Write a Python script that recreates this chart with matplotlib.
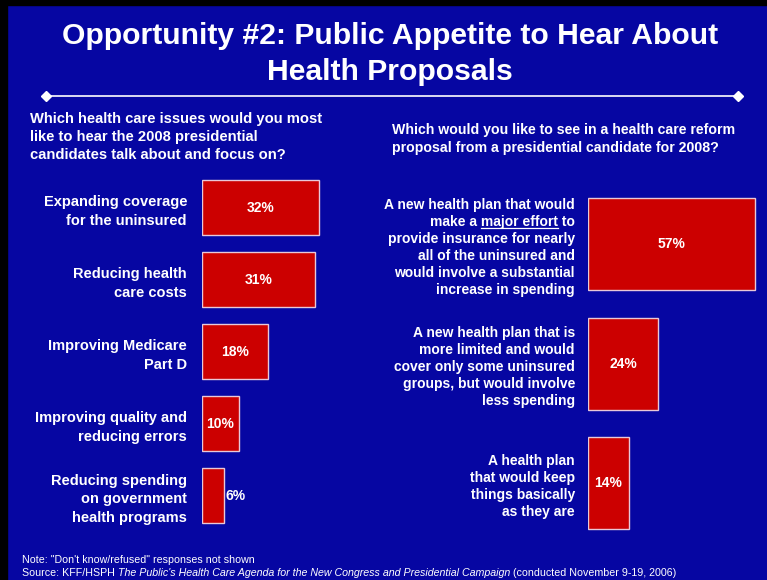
import matplotlib.pyplot as plt
from matplotlib.patches import Rectangle

plt.rcParams['font.family'] = ['Liberation Sans', 'DejaVu Sans']

# left panel: issues to hear about
issues = ["Expanding coverage\nfor the uninsured",
          "Reducing health\ncare costs",
          "Improving Medicare\nPart D",
          "Improving quality and\nreducing errors",
          "Reducing spending\non government\nhealth programs"]
issue_pct = [32, 31, 18, 10, 6]

# right panel: reform proposal preference
plans = ["A new health plan that would\nmake a major effort to\nprovide insurance for nearly\nall of the uninsured and\nwould involve a substantial\nincrease in spending",
         "A new health plan that is\nmore limited and would\ncover only some uninsured\ngroups, but would involve\nless spending",
         "A health plan\nthat would keep\nthings basically\nas they are"]
plan_pct = [57, 24, 14]

BG = '#0606A2'
RED = '#CC0000'
EDGE = '#E8C8D8'

W, H = 767, 580
fig = plt.figure(figsize=(W / 100, H / 100), dpi=100, facecolor=BG)

def px_axes(x0, y0, x1, y1):
    # axes from pixel box (top-left origin)
    return fig.add_axes([x0 / W, 1 - y1 / H, (x1 - x0) / W, (y1 - y0) / H])

# black border at top/left like the scanned slide
fig.patches.append(Rectangle((0, 1 - 5 / H), 1, 5 / H, transform=fig.transFigure, color='black'))
fig.patches.append(Rectangle((0, 0), 7 / W, 1, transform=fig.transFigure, color='black'))

fig.text(0.508, 1 - 36 / H, "Opportunity #2: Public Appetite to Hear About", ha='center', va='center',
         color='white', fontsize=21.7, fontweight='bold')
fig.text(0.508, 1 - 72 / H, "Health Proposals", ha='center', va='center',
         color='white', fontsize=21.7, fontweight='bold')
fig.add_artist(plt.Line2D([46 / W, 738 / W], [1 - 96 / H, 1 - 96 / H], color='white', lw=1.2,
                          marker='D', markersize=5, transform=fig.transFigure))

fig.text(30 / W, 1 - 112 / H, "Which health care issues would you most\nlike to hear the 2008 presidential\ncandidates talk about and focus on?",
         ha='left', va='top', color='white', fontsize=10.6, fontweight='bold', linespacing=1.37)
fig.text(392 / W, 1 - 123 / H, "Which would you like to see in a health care reform\nproposal from a presidential candidate for 2008?",
         ha='left', va='top', color='white', fontsize=10.2, fontweight='bold', linespacing=1.36)

# left bars
axl = px_axes(202, 171.5, 202 + 3.66 * 40, 531.5)
axl.barh(range(len(issues)), issue_pct, height=0.76, color=RED, edgecolor=EDGE, linewidth=1)
axl.set_xlim(0, 40)
axl.set_ylim(len(issues) - 0.5, -0.5)
for i, v in enumerate(issue_pct):
    if v >= 10:
        axl.text(v / 2, i, f"{v}%", ha='center', va='center', color='white', fontsize=10, fontweight='bold')
    else:
        axl.text(v + 0.4, i, f"{v}%", ha='left', va='center', color='white', fontsize=10, fontweight='bold')
axl.set_yticks(range(len(issues)))
axl.set_yticklabels(issues, color='white', fontsize=10.5, fontweight='bold', ha='right', linespacing=1.45)
axl.tick_params(axis='y', length=0, pad=10.8)

# right bars
axr = px_axes(588, 184.5, 588 + 2.93 * 60, 543)
axr.barh(range(len(plans)), plan_pct, height=0.77, color=RED, edgecolor=EDGE, linewidth=1)
axr.set_xlim(0, 60)
axr.set_ylim(len(plans) - 0.5, -0.5)
for i, v in enumerate(plan_pct):
    axr.text(v / 2, i, f"{v}%", ha='center', va='center', color='white', fontsize=10, fontweight='bold')
axr.set_yticks(range(len(plans)))
axr.set_yticklabels(plans, color='white', fontsize=10, fontweight='bold', ha='right', linespacing=1.28)
axr.tick_params(axis='y', length=0, pad=9.4)

for ax in (axl, axr):
    ax.set_facecolor('none')
    ax.set_xticks([])
    for s in ax.spines.values():
        s.set_visible(False)

# underline "major effort" in the first right label
fig.canvas.draw()
r = fig.canvas.get_renderer()
lab = axr.get_yticklabels()[0]
bb = lab.get_window_extent(r)
nlines = plans[0].count('\n') + 1
line_h = bb.height / nlines
tmp = fig.text(0, 0, "major effort to", fontsize=10, fontweight='bold')
w_all = tmp.get_window_extent(r).width
tmp.set_text("major effort")
w_me = tmp.get_window_extent(r).width
tmp.remove()
x_end = bb.x1 - (w_all - w_me)
x_start = x_end - w_me
y_ul = bb.y1 - line_h * 2 + 3
fig.add_artist(plt.Line2D([x_start / W, x_end / W], [y_ul / H, y_ul / H], color='white', lw=0.9,
                          transform=fig.transFigure))

# footer
fig.text(22 / W, 1 - 560 / H, "Note: \"Don't know/refused\" responses not shown", ha='left', va='center',
         color='white', fontsize=7.7)
t1 = fig.text(22 / W, 1 - 573 / H, "Source: KFF/HSPH ", ha='left', va='center', color='white', fontsize=7.7)
t2 = fig.add_artist(plt.Annotation("The Public's Health Care Agenda for the New Congress and Presidential Campaign",
                                   xy=(1, 0), xycoords=t1, ha='left', va='bottom', color='white',
                                   fontsize=7.7, fontstyle='italic'))
fig.add_artist(plt.Annotation(" (conducted November 9-19, 2006)", xy=(1, 0), xycoords=t2,
                              ha='left', va='bottom', color='white', fontsize=7.7))

fig.savefig('out.png', dpi=100, facecolor=BG)
